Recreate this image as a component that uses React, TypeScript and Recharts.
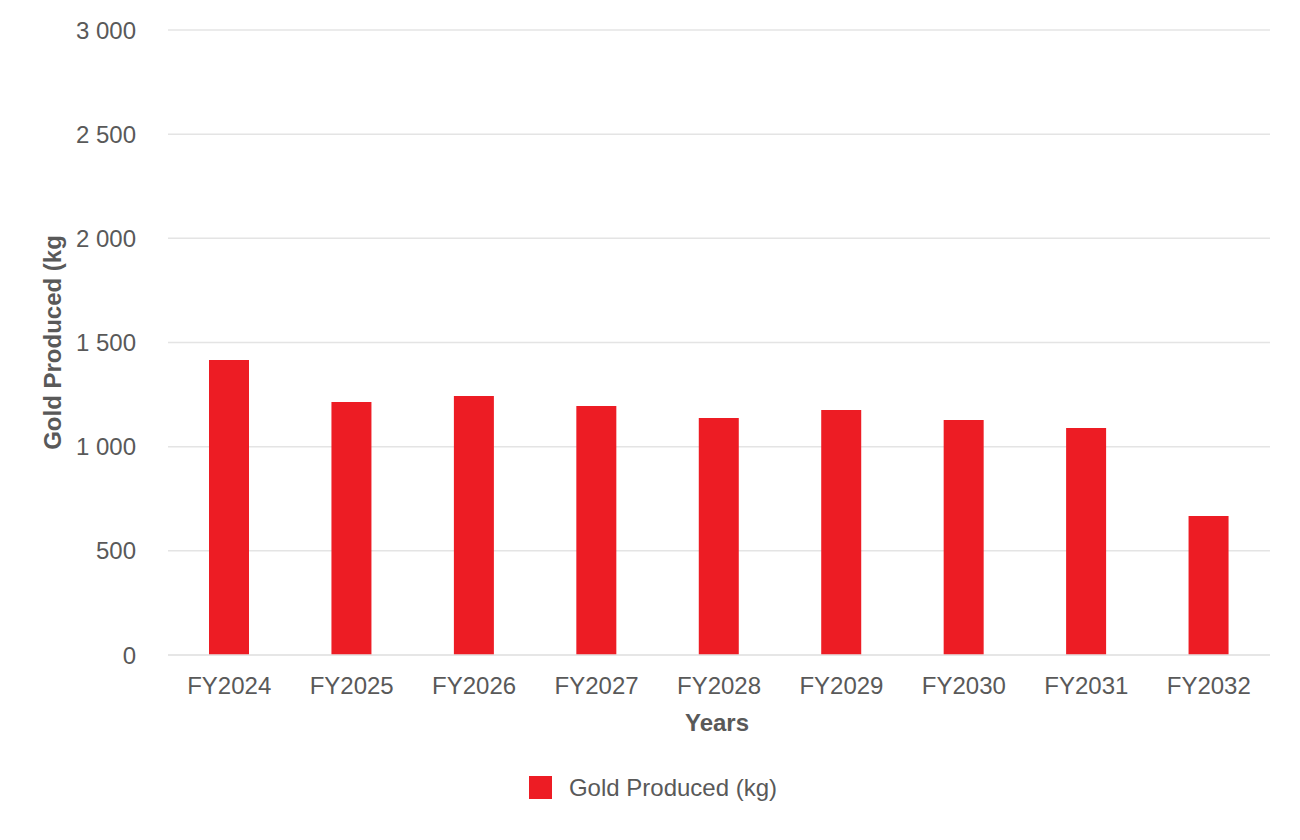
import React from 'react';
import { BarChart, Bar, XAxis, YAxis, CartesianGrid, Legend, Label } from 'recharts';

const years = ['FY2024', 'FY2025', 'FY2026', 'FY2027', 'FY2028', 'FY2029', 'FY2030', 'FY2031', 'FY2032'];
const goldProduced = [1416, 1214, 1243, 1195, 1138, 1176, 1128, 1090, 667];
const yTicks = [0, 500, 1000, 1500, 2000, 2500, 3000];

const data = years.map((y, i) => ({ year: y, gold: goldProduced[i] }));

const FONT = '"Liberation Sans", Arial, Helvetica, sans-serif';
const TEXT = '#595959';
const RED = '#ed1c24';
const FS = 24;

const fmt = (v: number) => String(v).replace(/\B(?=(\d{3})+(?!\d))/g, ' ');

const YLabel = (props: any) => {
  const vb = props.viewBox || { x: 0, y: 0, width: 0, height: 0 };
  const cx = vb.x + 52;
  const cy = vb.y + vb.height / 2;
  return (
    <text x={cx} y={cy} transform={`rotate(-90, ${cx}, ${cy})`} textAnchor="middle" dominantBaseline="central"
      fill={TEXT} fontSize={FS} fontWeight="bold" fontFamily={FONT}>
      Gold Produced (kg
    </text>
  );
};

const XLabel = (props: any) => {
  const vb = props.viewBox || { x: 0, y: 0, width: 0, height: 0 };
  return (
    <text x={vb.x + vb.width / 2 - 2} y={vb.y + 67} textAnchor="middle" dominantBaseline="central"
      fill={TEXT} fontSize={FS} fontWeight="bold" fontFamily={FONT}>
      Years
    </text>
  );
};

const LegendContent = () => (
  <div style={{ height: 85, boxSizing: 'border-box', paddingTop: 21, display: 'flex', justifyContent: 'center', alignItems: 'flex-start', fontFamily: FONT }}>
    <div style={{ display: 'flex', alignItems: 'center', height: 23, marginLeft: 6 }}>
      <div style={{ width: 23, height: 23, background: RED, marginRight: 17 }} />
      <span style={{ fontSize: FS, color: TEXT, lineHeight: '23px' }}>Gold Produced (kg)</span>
    </div>
  </div>
);

export default function App() {
  return (
    <div style={{ position: 'absolute', left: 0, top: 0, width: 1300, height: 840, background: '#fff' }}>
      <BarChart width={1300} height={840} data={data} margin={{ top: 30, right: 30, left: 0, bottom: 0 }}>
        <CartesianGrid vertical={false} stroke="#e4e4e4" strokeWidth={1.5} />
        <XAxis dataKey="year" height={100} tickLine={false} axisLine={{ stroke: '#e4e4e4', strokeWidth: 1.5 }}
          tickMargin={16} tick={{ fill: TEXT, fontSize: FS, fontFamily: FONT }} interval={0}>
          <Label content={<XLabel />} />
        </XAxis>
        <YAxis width={168} domain={[0, 3000]} ticks={yTicks} tickFormatter={fmt} tickLine={false} axisLine={false}
          tickMargin={26} tick={{ fill: TEXT, fontSize: FS, fontFamily: FONT }}>
          <Label content={<YLabel />} />
        </YAxis>
        <Legend verticalAlign="bottom" content={<LegendContent />} wrapperStyle={{ left: 0, width: 1300 }} />
        <Bar dataKey="gold" name="Gold Produced (kg)" fill={RED} barSize={40} isAnimationActive={false} />
      </BarChart>
    </div>
  );
}
